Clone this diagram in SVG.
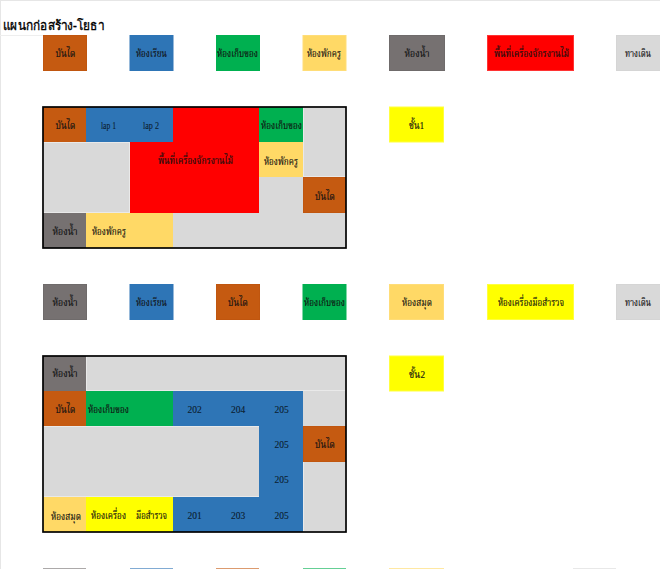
<svg xmlns="http://www.w3.org/2000/svg" width="660" height="569" viewBox="0 0 660 569">
<style>
text{font-family:"Liberation Serif","Noto Serif Thai","Noto Sans","DejaVu Sans",serif;font-size:11px;fill:#111;text-anchor:middle;dominant-baseline:central;stroke:#111;stroke-width:.15}
.t{font-family:"Noto Sans","DejaVu Sans",sans-serif;font-size:13px;font-weight:500;fill:#000;stroke:#000;stroke-width:.35;text-anchor:start}
.n{font-size:9.500px;stroke:#0b1c2e;stroke-width:.1;fill:#0b1c2e}
.o{fill:#c55a11;stroke:#c0560f}.b{fill:#2e75b6;stroke:#2e75b6}.g{fill:#00b050;stroke:#00b050}.y{fill:#ffd966;stroke:#ffdd78}.k{fill:#767171;stroke:#6f6b6b}.r{fill:#f00;stroke:#f33}.l{fill:#d9d9d9;stroke:#d5d5d5}.w{fill:#ff0;stroke:#ffff40}
.p{stroke:none}
.e{fill:#d9d9d9;stroke:#e9e9e9}
.f{fill:none;stroke:#000;stroke-width:1.700}
</style>
<rect width="660" height="569" fill="#fff"/>
<rect width="660" height="1" fill="#e6e6e6"/>
<rect width="1" height="569" fill="#e6e6e6"/>
<rect x="0" y="35" width="43" height="1" fill="#eee"/>
<text class="t" x="3" y="25" textLength="101" lengthAdjust="spacingAndGlyphs">แผนกก่อสร้าง-โยธา</text>

<g id="legend1">
<g id="l1-stairs"><rect class="o" x="43.500" y="35.500" width="43" height="35"/><text x="65.500" y="53" textLength="20" lengthAdjust="spacingAndGlyphs">บันได</text></g>
<g id="l1-class"><rect class="b" x="130" y="35.500" width="43" height="35"/><text x="151.500" y="53" textLength="31" lengthAdjust="spacingAndGlyphs">ห้องเรียน</text></g>
<g id="l1-store"><rect class="g" x="216.500" y="35.500" width="43" height="35"/><text x="237.500" y="53" textLength="41" lengthAdjust="spacingAndGlyphs">ห้องเก็บของ</text></g>
<g id="l1-teacher"><rect class="y" x="303" y="35.500" width="43" height="35"/><text x="324" y="53" textLength="34" lengthAdjust="spacingAndGlyphs">ห้องพักครู</text></g>
<g id="l1-toilet"><rect class="k" x="389.500" y="35.500" width="55" height="35"/><text x="417" y="53" textLength="25" lengthAdjust="spacingAndGlyphs">ห้องน้ำ</text></g>
<g id="l1-machine"><rect class="r" x="487.500" y="35.500" width="86" height="35"/><text x="531.500" y="53" textLength="75" lengthAdjust="spacingAndGlyphs">พื้นที่เครื่องจักรงานไม้</text></g>
<g id="l1-walk"><rect class="l" x="616.500" y="35.500" width="44" height="35"/><text x="638" y="53" textLength="26" lengthAdjust="spacingAndGlyphs">ทางเดิน</text></g>
<g id="l1-floor"><rect class="w" x="389.500" y="107" width="54" height="35"/><text x="416.500" y="125" textLength="15" lengthAdjust="spacingAndGlyphs">ชั้น1</text></g>
</g>

<g id="plan1">
<rect class="e" x="43.500" y="142.500" width="86" height="70"/>
<rect class="e" x="303.500" y="107.500" width="42" height="69"/>
<rect class="l p" x="259" y="177" width="44" height="36"/>
<rect class="l p" x="173" y="213" width="173" height="35"/>
<g id="p1-stairs1"><rect class="o p" x="43" y="107" width="43" height="35"/><text x="65.500" y="125" textLength="20" lengthAdjust="spacingAndGlyphs">บันได</text></g>
<g id="p1-lap"><rect class="b p" x="86" y="107" width="87" height="35"/><text class="n" x="108.500" y="126" textLength="15" lengthAdjust="spacingAndGlyphs">lap 1</text><text class="n" x="151" y="126" textLength="16" lengthAdjust="spacingAndGlyphs">lap 2</text></g>
<g id="p1-machine"><path class="r p" d="M173 107H259V213H130V142H173Z"/><text x="195.500" y="160" textLength="75" lengthAdjust="spacingAndGlyphs">พื้นที่เครื่องจักรงานไม้</text></g>
<g id="p1-store"><rect class="g p" x="259" y="107" width="44" height="35"/><text x="281.500" y="125" textLength="41" lengthAdjust="spacingAndGlyphs">ห้องเก็บของ</text></g>
<g id="p1-teacher1"><rect class="y p" x="259" y="142" width="44" height="35"/><text x="281" y="161" textLength="34" lengthAdjust="spacingAndGlyphs">ห้องพักครู</text></g>
<g id="p1-stairs2"><rect class="o" x="303.500" y="177.500" width="42" height="35"/><text x="325" y="196" textLength="20" lengthAdjust="spacingAndGlyphs">บันได</text></g>
<g id="p1-toilet"><rect class="k p" x="43" y="213" width="43" height="35"/><text x="65" y="231" textLength="25" lengthAdjust="spacingAndGlyphs">ห้องน้ำ</text></g>
<g id="p1-teacher2"><rect class="y p" x="86" y="213" width="87" height="35"/><text x="109" y="231" textLength="34" lengthAdjust="spacingAndGlyphs">ห้องพักครู</text></g>
<rect class="f" x="43" y="107" width="303" height="141"/>
</g>

<g id="legend2">
<g id="l2-toilet"><rect class="k" x="43.500" y="284.500" width="43" height="35"/><text x="65" y="302" textLength="25" lengthAdjust="spacingAndGlyphs">ห้องน้ำ</text></g>
<g id="l2-class"><rect class="b" x="130" y="284.500" width="43" height="35"/><text x="151.500" y="302" textLength="31" lengthAdjust="spacingAndGlyphs">ห้องเรียน</text></g>
<g id="l2-stairs"><rect class="o" x="216.500" y="284.500" width="43" height="35"/><text x="238" y="302" textLength="20" lengthAdjust="spacingAndGlyphs">บันได</text></g>
<g id="l2-store"><rect class="g" x="303" y="284.500" width="43" height="35"/><text x="324.500" y="302" textLength="41" lengthAdjust="spacingAndGlyphs">ห้องเก็บของ</text></g>
<g id="l2-library"><rect class="y" x="389.500" y="284.500" width="54" height="35"/><text x="417" y="302" textLength="30" lengthAdjust="spacingAndGlyphs">ห้องสมุด</text></g>
<g id="l2-tools"><rect class="w" x="487.500" y="284.500" width="86" height="35"/><text x="531" y="302" textLength="66" lengthAdjust="spacingAndGlyphs">ห้องเครื่องมือสำรวจ</text></g>
<g id="l2-walk"><rect class="l" x="616.500" y="284.500" width="44" height="35"/><text x="638" y="302" textLength="26" lengthAdjust="spacingAndGlyphs">ทางเดิน</text></g>
<g id="l2-floor"><rect class="w" x="389.500" y="356" width="54" height="35"/><text x="417" y="374" textLength="16" lengthAdjust="spacingAndGlyphs">ชั้น2</text></g>
</g>

<g id="plan2">
<rect class="e" x="86.500" y="356.500" width="259" height="34"/>
<rect class="l p" x="303" y="391" width="43" height="35"/>
<rect class="e" x="43.500" y="426.500" width="216" height="70"/>
<rect class="e" x="303.500" y="461.500" width="42" height="70"/>
<g id="p2-toilet"><rect class="k p" x="43" y="356" width="43" height="35"/><text x="65" y="373" textLength="25" lengthAdjust="spacingAndGlyphs">ห้องน้ำ</text></g>
<g id="p2-stairs1"><rect class="o p" x="43" y="391" width="43" height="35"/><text x="65.500" y="409" textLength="20" lengthAdjust="spacingAndGlyphs">บันได</text></g>
<g id="p2-store"><rect class="g p" x="86" y="391" width="87" height="35"/><text x="108.500" y="409" textLength="41" lengthAdjust="spacingAndGlyphs">ห้องเก็บของ</text></g>
<g id="p2-rooms"><path class="b p" d="M173 391H303V532H173V497H259V426H173Z"/>
<text class="n" x="194.500" y="410">202</text><text class="n" x="238" y="410">204</text><text class="n" x="281.500" y="410">205</text><text class="n" x="281.500" y="445">205</text><text class="n" x="281.500" y="480">205</text><text class="n" x="194.500" y="516">201</text><text class="n" x="238" y="516">203</text><text class="n" x="281.500" y="516">205</text></g>
<g id="p2-stairs2"><rect class="o" x="303.500" y="426.500" width="42" height="35"/><text x="325" y="444" textLength="20" lengthAdjust="spacingAndGlyphs">บันได</text></g>
<g id="p2-library"><rect class="y p" x="43" y="497" width="43" height="35"/><text x="66" y="516" textLength="30" lengthAdjust="spacingAndGlyphs">ห้องสมุด</text></g>
<g id="p2-tools"><rect class="w p" x="86" y="497" width="87" height="35"/><text x="108.500" y="515" textLength="35" lengthAdjust="spacingAndGlyphs">ห้องเครื่อง</text><text x="151.500" y="515" textLength="31" lengthAdjust="spacingAndGlyphs">มือสำรวจ</text></g>
<rect class="f" x="43" y="356" width="303" height="176"/>
</g>

<g id="legend3" opacity="0.6">
<rect class="k p" x="43" y="568" width="43" height="1"/>
<rect class="b p" x="130" y="568" width="43" height="1"/>
<rect class="o p" x="216" y="568" width="43" height="1"/>
<rect class="g p" x="303" y="568" width="43" height="1"/>
<rect class="y p" x="389" y="568" width="55" height="1"/>
<rect class="l p" x="573" y="568" width="43" height="1"/>
</g>
</svg>
